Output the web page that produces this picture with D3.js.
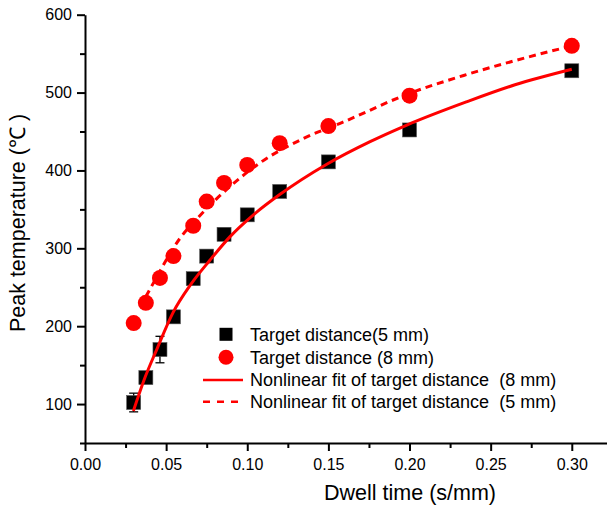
<!DOCTYPE html>
<html>
<head>
<meta charset="utf-8">
<script src="https://cdn.jsdelivr.net/npm/d3@7"></script>
<style>
  html, body { margin: 0; padding: 0; background: #fff; }
  svg { display: block; font-family: "Liberation Sans", Arial, sans-serif; }
</style>
</head>
<body>
<svg id="chart" width="607" height="508"></svg>
<script>
// Dwell time (s/mm) for each measurement
const dwellTimes = [0.03, 0.0375, 0.0462, 0.0545, 0.0667, 0.075, 0.0857, 0.1, 0.12, 0.15, 0.2, 0.3];
// Peak temperature at target distance 5 mm (squares) and its error
const peak5mm = [102, 134, 170, 212, 261, 290, 318, 343, 373, 411, 452, 528];
const err5mm = [12, 0, 17, 0, 0, 0, 0, 0, 0, 0, 0, 0];
// Peak temperature at target distance 8 mm (circles)
const peak8mm = [204, 230, 262, 290, 329, 360, 384, 407, 435, 457, 496, 560];

// Nonlinear fit curves
const fitSolidX = [0.0298, 0.0364, 0.0442, 0.0544, 0.065, 0.0771, 0.0894, 0.1038, 0.12, 0.149, 0.1757, 0.198, 0.235, 0.265, 0.30];
const fitSolidY = [91, 131, 170, 218, 253, 285, 315, 343, 369, 408, 437, 458, 488, 510, 530];
const fitDashX = [0.0375, 0.0407, 0.0586, 0.0699, 0.0914, 0.108, 0.1346, 0.159, 0.2, 0.235, 0.265, 0.30];
const fitDashY = [238, 250, 313, 340, 383, 410, 441, 462, 499, 523, 541, 560];

// Axis ticks
const xMajor = [0, 0.05, 0.10, 0.15, 0.20, 0.25, 0.30];
const xMinor = [0.025, 0.075, 0.125, 0.175, 0.225, 0.275];
const yMajor = [100, 200, 300, 400, 500, 600];
const yMinor = [50, 150, 250, 350, 450, 550];

const legendLabels = [
  "Target distance(5 mm)",
  "Target distance (8 mm)",
  "Nonlinear fit of target distance  (8 mm)",
  "Nonlinear fit of target distance  (5 mm)"
];

const svg = d3.select("#chart");
const x = d3.scaleLinear().domain([0, 0.3217]).range([85, 607]);
const y = d3.scaleLinear().domain([50, 600]).range([443, 14.7]);

// Axes
const gx = svg.append("g").attr("transform", "translate(0,443)");
gx.call(d3.axisBottom(x).tickValues(xMajor).tickFormat(d3.format(".2f")).tickSize(8).tickSizeOuter(0).tickPadding(8));
gx.append("g").call(d3.axisBottom(x).tickValues(xMinor).tickFormat("").tickSize(5).tickSizeOuter(0))
  .select(".domain").remove();

const gy = svg.append("g").attr("transform", "translate(85,0)");
gy.call(d3.axisLeft(y).tickValues(yMajor).tickFormat(d3.format("d")).tickSize(8).tickSizeOuter(0).tickPadding(5));
gy.append("g").call(d3.axisLeft(y).tickValues(yMinor).tickFormat("").tickSize(5).tickSizeOuter(0))
  .select(".domain").remove();

svg.selectAll(".domain, .tick line").attr("stroke", "#000").attr("stroke-width", 2);
svg.selectAll(".tick text").attr("font-size", 16).attr("fill", "#000")
  .attr("font-family", "'Liberation Sans', Arial, sans-serif");

// Axis titles
svg.append("text").attr("x", 410).attr("y", 500).attr("text-anchor", "middle")
  .attr("font-size", 21.5).text("Dwell time (s/mm)");
svg.append("text").attr("transform", "translate(25,223) rotate(-90)").attr("text-anchor", "middle")
  .attr("font-size", 21.5).text("Peak temperature (℃ )");

// Error bars (5 mm)
const eb = svg.append("g").attr("stroke", "#000").attr("stroke-width", 1.3);
dwellTimes.forEach((t, i) => {
  if (!err5mm[i]) return;
  const cx = x(t), y1 = y(peak5mm[i] + err5mm[i]), y2 = y(peak5mm[i] - err5mm[i]);
  eb.append("line").attr("x1", cx).attr("x2", cx).attr("y1", y1).attr("y2", y2);
  eb.append("line").attr("x1", cx - 4.5).attr("x2", cx + 4.5).attr("y1", y1).attr("y2", y1);
  eb.append("line").attr("x1", cx - 4.5).attr("x2", cx + 4.5).attr("y1", y2).attr("y2", y2);
});

// Markers
svg.append("g").selectAll("rect").data(dwellTimes).join("rect")
  .attr("x", (d) => x(d) - 7).attr("y", (d, i) => y(peak5mm[i]) - 7)
  .attr("width", 14).attr("height", 14).attr("fill", "#000")
  .attr("stroke", "#555").attr("stroke-width", 0.6);
svg.append("g").selectAll("circle").data(dwellTimes).join("circle")
  .attr("cx", (d) => x(d)).attr("cy", (d, i) => y(peak8mm[i])).attr("r", 8).attr("fill", "#ff0000");

// Fit curves
const line = d3.line().x((d) => x(d[0])).y((d) => y(d[1])).curve(d3.curveMonotoneX);
svg.append("path").datum(d3.zip(fitSolidX, fitSolidY)).attr("d", line)
  .attr("fill", "none").attr("stroke", "#ff0000").attr("stroke-width", 3);
svg.append("path").datum(d3.zip(fitDashX, fitDashY)).attr("d", line)
  .attr("fill", "none").attr("stroke", "#ff0000").attr("stroke-width", 3).attr("stroke-dasharray", "7,5");

// Legend
const lg = svg.append("g");
const rowY = [334.3, 357.3, 380, 401.7];
lg.append("rect").attr("x", 219.5).attr("y", rowY[0] - 6.5).attr("width", 13).attr("height", 13).attr("fill", "#000");
lg.append("circle").attr("cx", 226).attr("cy", rowY[1]).attr("r", 7.5).attr("fill", "#ff0000");
lg.append("line").attr("x1", 203).attr("x2", 243).attr("y1", rowY[2]).attr("y2", rowY[2])
  .attr("stroke", "#ff0000").attr("stroke-width", 2.5);
lg.append("line").attr("x1", 203).attr("x2", 243).attr("y1", rowY[3]).attr("y2", rowY[3])
  .attr("stroke", "#ff0000").attr("stroke-width", 2.5).attr("stroke-dasharray", "7,7");
lg.selectAll("text").data(legendLabels).join("text")
  .attr("x", 250).attr("y", (d, i) => rowY[i]).attr("dy", "0.36em")
  .attr("font-size", 18).attr("fill", "#000").attr("xml:space", "preserve")
  .style("white-space", "pre").text((d) => d);
</script>
</body>
</html>
